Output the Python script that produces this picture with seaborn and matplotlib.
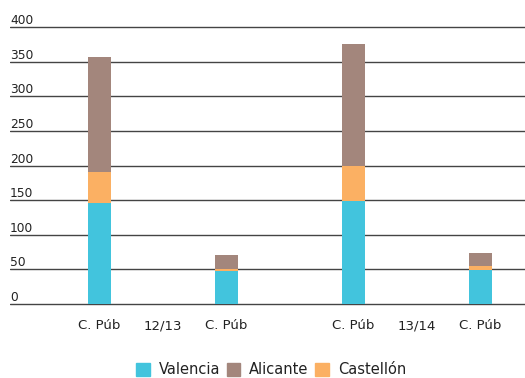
import numpy as np
import matplotlib
matplotlib.use("Agg")
import matplotlib.pyplot as plt
import matplotlib.patches as mpatches
import seaborn as sns

# bar positions on the 7-slot axis (slot 3 is the gap between the courses)
positions = [0, 2, 4, 6]
valencia = [146, 47, 149, 49]
castellon = [45, 4, 51, 6]
alicante = [166, 20, 176, 19]

tick_pos = [0, 1, 2, 4, 5, 6]
tick_labels = ["C. Púb", "12/13", "C. Púb", "C. Púb", "13/14", "C. Púb"]
y_ticks = [0, 50, 100, 150, 200, 250, 300, 350, 400]

series = ["Valencia", "Alicante", "Castellón"]
colors = {"Valencia": "#42C4DD", "Alicante": "#A3867C", "Castellón": "#FBB063"}

sns.set_style("white")
plt.rcParams["font.family"] = ["DejaVu Sans"]

fig = plt.figure(figsize=(5.25, 3.78), dpi=100)
ax = fig.add_axes([10 / 525, 1 - 306.1 / 378, 515 / 525, 281.2 / 378])

v = np.array(valencia)
vc = v + np.array(castellon)
total = vc + np.array(alicante)

# stacked look: draw the totals first, then the lower layers on top
for vals, name in [(total, "Alicante"), (vc, "Castellón"), (v, "Valencia")]:
    sns.barplot(x=positions, y=vals, native_scale=True, width=0.18,
                color=colors[name], saturation=1, linewidth=0, ax=ax, zorder=3)

ax.set_xlim(-1.41, 6.70)
ax.set_ylim(-3, 403)
ax.set_yticks(y_ticks)
ax.set_yticklabels([str(t) for t in y_ticks])
ax.set_xticks(tick_pos)
ax.set_xticklabels(tick_labels)
ax.yaxis.grid(True, color="#444444", linewidth=1.0, zorder=0)
ax.xaxis.grid(False)
ax.set_axisbelow(True)
for s in ax.spines.values():
    s.set_visible(False)

ax.tick_params(axis="y", length=0, pad=0, labelsize=8.8, labelcolor="#222222")
ax.tick_params(axis="x", length=0, pad=9.5, labelsize=9.5, labelcolor="#222222")
plt.setp(ax.get_yticklabels(), ha="left", va="bottom")
ax.set_xlabel("")
ax.set_ylabel("")

handles = [mpatches.Patch(color=colors[s], label=s) for s in series]
fig.legend(handles=handles, loc="center", bbox_to_anchor=(271 / 525, 1 - 370 / 378),
           ncol=3, frameon=False, fontsize=10.5, handlelength=0.95, handleheight=0.95,
           handletextpad=0.6, columnspacing=0.45, borderpad=0, labelcolor="#222222")

fig.savefig("out.png", dpi=100)
